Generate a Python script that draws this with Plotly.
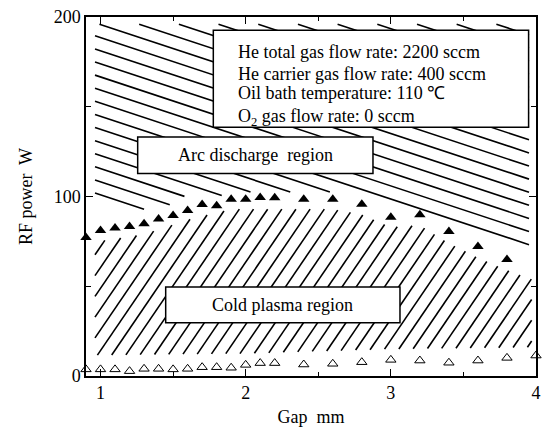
import numpy as np
import plotly.graph_objects as go

# ---------------- data ----------------
arc_gap = [0.9, 1.0, 1.1, 1.2, 1.3, 1.4, 1.5, 1.6, 1.7, 1.8, 1.9, 2.0, 2.1, 2.2,
           2.4, 2.6, 2.8, 3.0, 3.2, 3.4, 3.6, 3.8]
arc_power = [77.2, 81.1, 82.4, 83.3, 84.8, 87.5, 89.4, 92.2, 95.5, 94.8, 98.4, 98.4,
             99.5, 99.3, 98.4, 98.4, 95.7, 88.5, 89.8, 80.5, 72.2, 64.9]

cold_gap = [0.9, 1.0, 1.1, 1.2, 1.3, 1.4, 1.5, 1.6, 1.7, 1.8, 1.9, 2.0, 2.1, 2.2,
            2.4, 2.6, 2.8, 3.0, 3.2, 3.4, 3.6, 3.8, 4.0]
cold_power = [3.7, 3.7, 3.7, 2.7, 4.0, 4.0, 3.7, 4.0, 4.9, 4.9, 4.6, 6.2, 7.2, 7.2,
              6.4, 6.8, 7.7, 9.0, 8.6, 7.4, 8.6, 10.1, 11.4]

# region boundaries of the hatched areas (data units)
arc_region_floor_x = [0.9, 1.27, 1.47, 1.55, 1.84, 2.0, 2.65, 2.87, 3.95]
arc_region_floor_y = [95.5, 92.5, 95.0, 100.0, 100.5, 102.5, 102.5, 101.0, 72.5]
arc_region_ceil_x = [0.9, 4.0]
arc_region_ceil_y = [196.0, 196.0]

cold_region_top_x = [0.9, 1.3, 1.6, 1.9, 2.6, 2.8, 3.0, 3.2, 3.4, 3.6, 3.8, 4.0]
cold_region_top_y = [74, 79, 87, 93, 93, 90, 83, 84, 74, 66, 59, 53]
cold_region_bottom_x = [0.9, 2.0, 3.0, 4.0]
cold_region_bottom_y = [11.5, 12.5, 15.0, 16.0]

info_lines = ["He total gas flow rate: 2200 sccm",
              "He carrier gas flow rate: 400 sccm",
              "Oil bath temperature: 110 \u2103",
              "O<sub>2</sub> gas flow rate: 0 sccm"]
info_line_tops = [187.1, 174.9, 164.1, 151.6]

FONT = "Liberation Serif, Times New Roman, serif"


def hatch(slope, intercepts, x_lo, x_hi, fx, fy, cx, cy, n=4000):
    xs = np.linspace(x_lo, x_hi, n)
    lo = np.interp(xs, fx, fy)
    hi = np.interp(xs, cx, cy)
    ox, oy = [], []
    for c in intercepts:
        y = c + slope * xs
        inside = ((y >= lo) & (y <= hi)).astype(int)
        edges = np.flatnonzero(np.diff(np.concatenate([[0], inside, [0]])))
        for s, e in zip(edges[0::2], edges[1::2]):
            if e - s < 3:
                continue
            ox += [xs[s], xs[e - 1], None]
            oy += [y[s], y[e - 1], None]
    return ox, oy


fig = go.Figure()

# upper hatch (arc discharge region), "\" lines
up_slope = -26.7
up_c = [178.7 + 7.3 * k for k in range(-12, 20)]
ux, uy = hatch(up_slope, up_c, 0.962, 3.952, arc_region_floor_x, arc_region_floor_y,
               arc_region_ceil_x, arc_region_ceil_y)
fig.add_trace(go.Scatter(x=ux, y=uy, mode="lines", line=dict(color="black", width=1.6),
                         hoverinfo="skip", showlegend=False))

# lower hatch (cold plasma region), "/" lines
lo_slope = 118.7
lo_c = [50 - lo_slope * (1.497 + 0.0975 * k) for k in range(-25, 40)]
lx, ly = hatch(lo_slope, lo_c, 0.962, 3.97, cold_region_bottom_x, cold_region_bottom_y,
               cold_region_top_x, cold_region_top_y)
fig.add_trace(go.Scatter(x=lx, y=ly, mode="lines", line=dict(color="black", width=1.6),
                         hoverinfo="skip", showlegend=False))

fig.add_trace(go.Scatter(x=arc_gap, y=arc_power, mode="markers", cliponaxis=False,
                         marker=dict(symbol="triangle-up", size=10, color="black"),
                         showlegend=False))
fig.add_trace(go.Scatter(x=cold_gap, y=cold_power, mode="markers", cliponaxis=False,
                         marker=dict(symbol="triangle-up-open", size=9, color="black",
                                     line=dict(width=1, color="black")),
                         showlegend=False))

# boxes
boxes = [(1.777, 138.6, 3.949, 192.6), (1.256, 112.8, 2.877, 133.1), (1.449, 29.7, 3.063, 49.6)]
for x0, y0, x1, y1 in boxes:
    fig.add_shape(type="rect", x0=x0, y0=y0, x1=x1, y1=y1, xref="x", yref="y",
                  fillcolor="white", line=dict(color="black", width=1.5), layer="above")

for t, yt in zip(info_lines, info_line_tops):
    fig.add_annotation(x=1.931, y=yt, text=t, xref="x", yref="y",
                       xanchor="left", yanchor="top", showarrow=False,
                       font=dict(family=FONT, size=18, color="black"))
fig.add_annotation(x=2.066, y=123.0, text="Arc discharge\u00a0 region", xref="x", yref="y",
                   showarrow=False, font=dict(family=FONT, size=18, color="black"))
fig.add_annotation(x=2.256, y=39.7, text="Cold plasma region", xref="x", yref="y",
                   showarrow=False, font=dict(family=FONT, size=18, color="black"))

axis_common = dict(showgrid=False, zeroline=False, showline=True, linecolor="black",
                   linewidth=1.5, mirror="allticks", ticks="inside", ticklen=7,
                   tickwidth=1.2, tickcolor="black",
                   tickfont=dict(family=FONT, size=18, color="black"))
fig.update_xaxes(range=[0.9, 4.0], tick0=0, dtick=1,
                 minor=dict(tick0=0, dtick=0.5, ticks="inside", ticklen=4, tickcolor="black",
                            showgrid=False),
                 title=dict(text="Gap\u00a0 mm", standoff=8,
                            font=dict(family=FONT, size=18, color="black")),
                 **axis_common)
fig.update_yaxes(range=[0, 200], tick0=0, dtick=100,
                 minor=dict(tick0=0, dtick=50, ticks="inside", ticklen=5, tickcolor="black",
                            showgrid=False),
                 title=dict(text="RF power\u00a0 W", standoff=16,
                            font=dict(family=FONT, size=18, color="black")),
                 **axis_common)

fig.update_layout(width=548, height=431, margin=dict(l=86, r=7, t=16, b=54),
                  plot_bgcolor="white", paper_bgcolor="white",
                  font=dict(family=FONT, color="black"))

fig.write_html("out.html")
